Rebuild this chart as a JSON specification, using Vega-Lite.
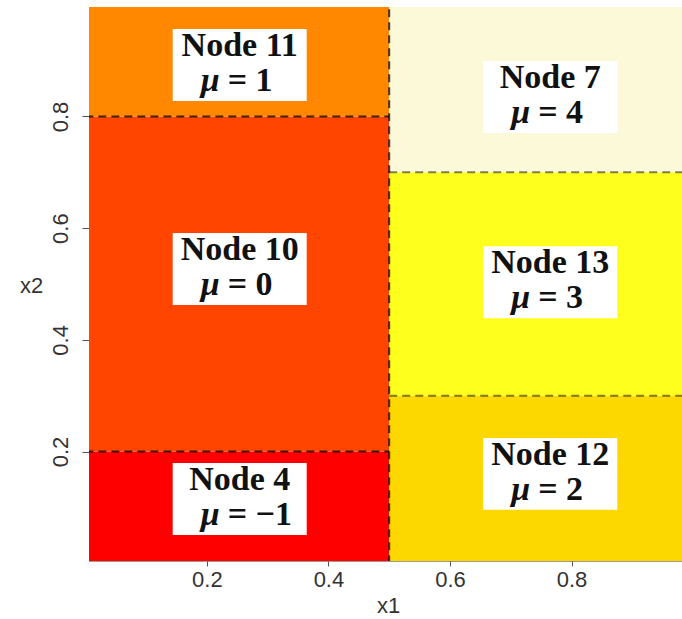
{
  "$schema": "https://vega.github.io/schema/vega-lite/v6.json",
  "autosize": {"type": "none"},
  "padding": {"left": 89, "top": 7, "right": 0, "bottom": 58},
  "width": 601,
  "height": 554,
  "background": "white",
  "view": {"stroke": "#999999", "strokeWidth": 1},
  "config": {
    "axis": {
      "labelFont": "Liberation Sans",
      "labelFontSize": 22,
      "labelColor": "#333333",
      "titleFont": "Liberation Sans",
      "titleFontSize": 22,
      "titleFontWeight": "normal",
      "titleColor": "#333333",
      "domain": false,
      "grid": false,
      "tickColor": "#555555",
      "tickSize": 5,
      "format": ".1f"
    }
  },
  "datasets": {
    "regions": [
      {"node": "Node 4", "mu": -1, "eq": "= −1", "xa": 0, "xb": 0.5, "ya": 0, "yb": 0.2, "lx": 0.254, "ly": 0.115},
      {"node": "Node 10", "mu": 0, "eq": "= 0", "xa": 0, "xb": 0.5, "ya": 0.2, "yb": 0.8, "lx": 0.254, "ly": 0.527},
      {"node": "Node 11", "mu": 1, "eq": "= 1", "xa": 0, "xb": 0.5, "ya": 0.8, "yb": 1, "lx": 0.254, "ly": 0.892},
      {"node": "Node 12", "mu": 2, "eq": "= 2", "xa": 0.5, "xb": 1, "ya": 0, "yb": 0.3, "lx": 0.765, "ly": 0.16},
      {"node": "Node 13", "mu": 3, "eq": "= 3", "xa": 0.5, "xb": 1, "ya": 0.3, "yb": 0.7, "lx": 0.765, "ly": 0.503},
      {"node": "Node 7", "mu": 4, "eq": "= 4", "xa": 0.5, "xb": 1, "ya": 0.7, "yb": 1, "lx": 0.765, "ly": 0.835}
    ],
    "splits": [
      {"side": "left", "xa": 0.5, "xb": 0.5, "ya": 0, "yb": 1},
      {"side": "left", "xa": 0, "xb": 0.5, "ya": 0.2, "yb": 0.2},
      {"side": "left", "xa": 0, "xb": 0.5, "ya": 0.8, "yb": 0.8},
      {"side": "right", "xa": 0.5, "xb": 1, "ya": 0.3, "yb": 0.3},
      {"side": "right", "xa": 0.5, "xb": 1, "ya": 0.7, "yb": 0.7}
    ]
  },
  "layer": [
    {
      "data": {"name": "regions"},
      "mark": {"type": "rect", "clip": true},
      "encoding": {
        "x": {
          "field": "xa", "type": "quantitative", "title": "x1",
          "scale": {"domain": [0.006, 0.995], "nice": false, "zero": false},
          "axis": {"values": [0.2, 0.4, 0.6, 0.8], "format": ".1f", "labelPadding": 3, "titleX": 299, "titleY": 44, "titleBaseline": "middle", "titleAlign": "center"}
        },
        "x2": {"field": "xb"},
        "y": {
          "field": "ya", "type": "quantitative", "title": "x2",
          "scale": {"domain": [0.004, 0.996], "nice": false, "zero": false},
          "axis": {"values": [0.2, 0.4, 0.6, 0.8], "format": ".1f", "labelAngle": -90, "labelAlign": "center", "labelBaseline": "bottom", "labelPadding": 10, "tickSize": 7, "titleAngle": 0, "titleX": -58, "titleY": 278, "titleAlign": "center", "titleBaseline": "middle"}
        },
        "y2": {"field": "yb"},
        "color": {
          "field": "mu", "type": "ordinal", "legend": null,
          "scale": {"domain": [-1, 0, 1, 2, 3, 4], "range": ["#FF0000", "#FF4500", "#FF8800", "#FCD700", "#FFFF1E", "#FBF9D8"]}
        }
      }
    },
    {
      "data": {"name": "splits"},
      "transform": [{"filter": "datum.side === 'left'"}],
      "mark": {"type": "rule", "clip": true, "color": "black", "opacity": 0.75, "strokeWidth": 2, "strokeDash": [8, 5]},
      "encoding": {
        "x": {"field": "xa", "type": "quantitative", "title": "x1"},
        "x2": {"field": "xb"},
        "y": {"field": "ya", "type": "quantitative", "title": "x2"},
        "y2": {"field": "yb"}
      }
    },
    {
      "data": {"name": "splits"},
      "transform": [{"filter": "datum.side === 'right'"}],
      "mark": {"type": "rule", "clip": true, "color": "black", "opacity": 0.5, "strokeWidth": 2, "strokeDash": [8, 5]},
      "encoding": {
        "x": {"field": "xa", "type": "quantitative", "title": "x1"},
        "x2": {"field": "xb"},
        "y": {"field": "ya", "type": "quantitative", "title": "x2"},
        "y2": {"field": "yb"}
      }
    },
    {
      "data": {"name": "regions"},
      "mark": {"type": "point", "shape": "M-1,-0.537H1V0.537H-1Z", "size": 17956, "filled": true, "fill": "white", "opacity": 1, "strokeWidth": 0},
      "encoding": {
        "x": {"field": "lx", "type": "quantitative", "title": "x1"},
        "y": {"field": "ly", "type": "quantitative", "title": "x2"}
      }
    },
    {
      "data": {"name": "regions"},
      "mark": {"type": "text", "font": "Liberation Serif", "fontSize": 34, "fontWeight": "bold", "color": "#111111", "align": "center", "baseline": "alphabetic", "dy": -9},
      "encoding": {
        "x": {"field": "lx", "type": "quantitative", "title": "x1"},
        "y": {"field": "ly", "type": "quantitative", "title": "x2"},
        "text": {"field": "node"}
      }
    },
    {
      "data": {"name": "regions"},
      "mark": {"type": "text", "font": "Liberation Serif", "fontSize": 34, "fontStyle": "italic", "fontWeight": "bold", "color": "#111111", "align": "right", "baseline": "alphabetic", "dx": -20, "dy": 26},
      "encoding": {
        "x": {"field": "lx", "type": "quantitative", "title": "x1"},
        "y": {"field": "ly", "type": "quantitative", "title": "x2"},
        "text": {"value": "μ"}
      }
    },
    {
      "data": {"name": "regions"},
      "mark": {"type": "text", "font": "Liberation Serif", "fontSize": 34, "fontWeight": "bold", "color": "#111111", "align": "left", "baseline": "alphabetic", "dx": -12, "dy": 26},
      "encoding": {
        "x": {"field": "lx", "type": "quantitative", "title": "x1"},
        "y": {"field": "ly", "type": "quantitative", "title": "x2"},
        "text": {"field": "eq"}
      }
    }
  ]
}
